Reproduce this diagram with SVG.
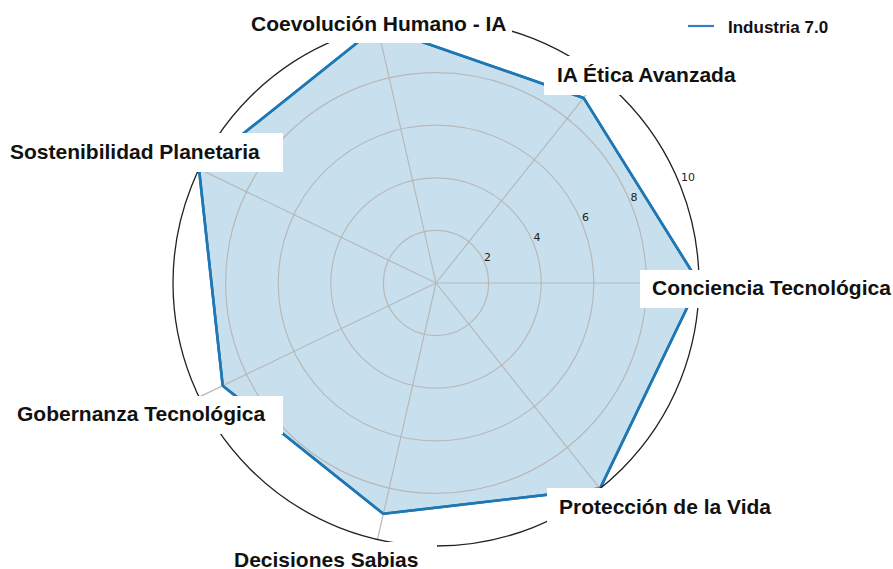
<svg xmlns="http://www.w3.org/2000/svg" width="893" height="569" viewBox="0 0 893 569">
<style>
.grid{fill:none;stroke:#b8b8b8;stroke-width:1.2}
.spoke{stroke:#b8b8b8;stroke-width:1.2}
.spine{fill:none;stroke:#222;stroke-width:1.3}
.area{fill:#c8e0ee;stroke:#1f77b4;stroke-width:2.6;stroke-linejoin:round}
.lbl{font-family:"Liberation Sans",Arial,sans-serif;font-weight:bold;font-size:21px;fill:#111}
.box{fill:#fff}
.tick{font-family:"DejaVu Sans",sans-serif;font-size:11px;fill:#222}
</style>
<rect width="893" height="569" fill="#fff"/>
<g id="chart">
<polygon class="area" points="699,283 583.6,97.9 377.5,26.6 199,168.9 222.7,385.7 383.3,513.8 600,488.6"/>
<g id="grid">
<circle class="grid" cx="436" cy="283" r="52.6"/>
<circle class="grid" cx="436" cy="283" r="105.2"/>
<circle class="grid" cx="436" cy="283" r="157.8"/>
<circle class="grid" cx="436" cy="283" r="210.4"/>
<line class="spoke" x1="436" y1="283" x2="699" y2="283"/>
<line class="spoke" x1="436" y1="283" x2="600" y2="77.4"/>
<line class="spoke" x1="436" y1="283" x2="377.5" y2="26.6"/>
<line class="spoke" x1="436" y1="283" x2="199" y2="168.9"/>
<line class="spoke" x1="436" y1="283" x2="199" y2="397.1"/>
<line class="spoke" x1="436" y1="283" x2="377.5" y2="539.4"/>
<line class="spoke" x1="436" y1="283" x2="600" y2="488.6"/>
</g>
<polygon points="699,283 583.6,97.9 377.5,26.6 199,168.9 222.7,385.7 383.3,513.8 600,488.6" fill="none" stroke="#1f77b4" stroke-width="2.6" stroke-linejoin="round"/>
<circle class="spine" cx="436" cy="283" r="263"/>
<g id="ticks">
<text class="tick" x="484" y="261">2</text>
<text class="tick" x="533.5" y="241">4</text>
<text class="tick" x="582" y="221">6</text>
<text class="tick" x="630.5" y="201">8</text>
<text class="tick" x="681" y="181">10</text>
</g>
</g>
<g id="label-conciencia">
<rect class="box" x="640" y="270" width="260" height="38"/>
<text class="lbl" x="652" y="295">Conciencia Tecnológica</text>
</g>
<g id="label-ia-etica">
<rect class="box" x="544" y="56" width="218" height="39"/>
<text class="lbl" x="557" y="81.5">IA Ética Avanzada</text>
</g>
<g id="label-coevolucion">
<rect class="box" x="238" y="5" width="274" height="38"/>
<text class="lbl" x="251" y="31">Coevolución Humano - IA</text>
</g>
<g id="label-sostenibilidad">
<rect class="box" x="0" y="133" width="283" height="39"/>
<text class="lbl" x="10" y="158.5">Sostenibilidad Planetaria</text>
</g>
<g id="label-gobernanza">
<rect class="box" x="5" y="396" width="278" height="38"/>
<text class="lbl" x="17" y="421">Gobernanza Tecnológica</text>
</g>
<g id="label-decisiones">
<rect class="box" x="222" y="542" width="215" height="40"/>
<text class="lbl" x="234" y="566.5">Decisiones Sabias</text>
</g>
<g id="label-proteccion">
<rect class="box" x="547" y="488" width="238" height="39"/>
<text class="lbl" x="559" y="514">Protección de la Vida</text>
</g>
<g id="legend">
<line x1="688" y1="26" x2="714" y2="26" stroke="#3a78c9" stroke-width="2.2"/>
<text x="728" y="33" font-family="Liberation Sans,Arial,sans-serif" font-weight="bold" font-size="17px" fill="#111">Industria 7.0</text>
</g>
</svg>
